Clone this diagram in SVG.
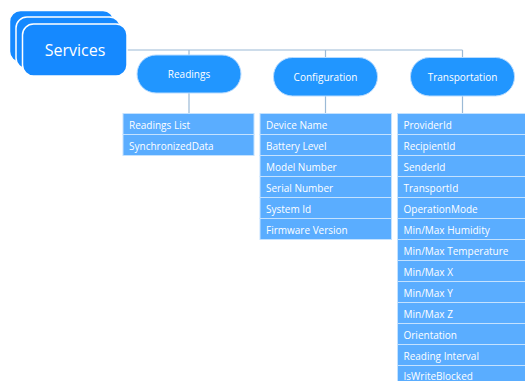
<svg xmlns="http://www.w3.org/2000/svg" width="525" height="381" viewBox="0 0 525 381">
  <style>
    .svc { fill: #1589ff; stroke: #ffffff; stroke-width: 1.5; }
    .pill { fill: #2196ff; stroke: #b9dcff; stroke-width: 1; }
    .row { fill: #5aadff; stroke: #c4e2ff; stroke-width: 1; }
    .wire { fill: none; stroke: #9bbad6; stroke-width: 1.2; }
    text { font-family: "Open Sans", "Noto Sans", sans-serif; fill: #ffffff; }
    .t-svc { font-size: 16px; text-anchor: middle; }
    .t-pill { font-size: 10px; text-anchor: middle; }
    .t-row { font-size: 10px; }
  </style>
  <rect width="525" height="381" fill="#ffffff"/>

  <g id="connectors">
    <path class="wire" d="M127 50 H462.5"/>
    <path class="wire" d="M189 50 V55 M189 93 V113"/>
    <path class="wire" d="M325.5 50 V57 M325.5 96 V113"/>
    <path class="wire" d="M462.5 50 V57 M462.5 96 V113"/>
  </g>

  <g id="services">
    <rect class="svc" x="9.5" y="10.5" width="104.5" height="52" rx="11"/>
    <rect class="svc" x="16" y="17" width="104.5" height="52" rx="11"/>
    <rect class="svc" x="22.5" y="24" width="104.5" height="52" rx="11"/>
    <text class="t-svc" x="75" y="55.5">Services</text>
  </g>

  <g id="readings">
    <rect class="pill" x="137" y="55" width="104" height="38" rx="19"/>
    <text class="t-pill" x="189" y="77.5">Readings</text>
  </g>

  <g id="configuration">
    <rect class="pill" x="273.5" y="57.5" width="104" height="38.5" rx="19"/>
    <text class="t-pill" x="325.5" y="80.5">Configuration</text>
  </g>

  <g id="transportation">
    <rect class="pill" x="410.5" y="57.5" width="104" height="38.5" rx="19"/>
    <text class="t-pill" x="462.5" y="80.5">Transportation</text>
  </g>

  <g id="readings-list">
    <rect class="row" x="123" y="113.5" width="131" height="21"/>
    <text class="t-row" x="129" y="129">Readings List</text>
    <rect class="row" x="123" y="134.5" width="131" height="21"/>
    <text class="t-row" x="129" y="150">SynchronizedData</text>
  </g>

  <g id="configuration-list">
    <rect class="row" x="260" y="113.5" width="131.5" height="21"/>
    <text class="t-row" x="266" y="129">Device Name</text>
    <rect class="row" x="260" y="134.5" width="131.5" height="21"/>
    <text class="t-row" x="266" y="150">Battery Level</text>
    <rect class="row" x="260" y="155.5" width="131.5" height="21"/>
    <text class="t-row" x="266" y="171">Model Number</text>
    <rect class="row" x="260" y="176.5" width="131.5" height="21"/>
    <text class="t-row" x="266" y="192">Serial Number</text>
    <rect class="row" x="260" y="197.5" width="131.5" height="21"/>
    <text class="t-row" x="266" y="213">System Id</text>
    <rect class="row" x="260" y="218.5" width="131.5" height="21"/>
    <text class="t-row" x="266" y="234">Firmware Version</text>
  </g>

  <g id="transportation-list">
    <rect class="row" x="397.5" y="113.5" width="131.5" height="21"/>
    <text class="t-row" x="403.5" y="129">ProviderId</text>
    <rect class="row" x="397.5" y="134.5" width="131.5" height="21"/>
    <text class="t-row" x="403.5" y="150">RecipientId</text>
    <rect class="row" x="397.5" y="155.5" width="131.5" height="21"/>
    <text class="t-row" x="403.5" y="171">SenderId</text>
    <rect class="row" x="397.5" y="176.5" width="131.5" height="21"/>
    <text class="t-row" x="403.5" y="192">TransportId</text>
    <rect class="row" x="397.5" y="197.5" width="131.5" height="21"/>
    <text class="t-row" x="403.5" y="213">OperationMode</text>
    <rect class="row" x="397.5" y="218.5" width="131.5" height="21"/>
    <text class="t-row" x="403.5" y="234">Min/Max Humidity</text>
    <rect class="row" x="397.5" y="239.5" width="131.5" height="21"/>
    <text class="t-row" x="403.5" y="255">Min/Max Temperature</text>
    <rect class="row" x="397.5" y="260.5" width="131.5" height="21"/>
    <text class="t-row" x="403.5" y="276">Min/Max X</text>
    <rect class="row" x="397.5" y="281.5" width="131.5" height="21"/>
    <text class="t-row" x="403.5" y="297">Min/Max Y</text>
    <rect class="row" x="397.5" y="302.5" width="131.5" height="21"/>
    <text class="t-row" x="403.5" y="318">Min/Max Z</text>
    <rect class="row" x="397.5" y="323.5" width="131.5" height="21"/>
    <text class="t-row" x="403.5" y="339">Orientation</text>
    <rect class="row" x="397.5" y="344.5" width="131.5" height="21"/>
    <text class="t-row" x="403.5" y="360">Reading Interval</text>
    <rect class="row" x="397.5" y="365.5" width="131.5" height="21"/>
    <text class="t-row" x="403.5" y="379.5">IsWriteBlocked</text>
  </g>
</svg>
